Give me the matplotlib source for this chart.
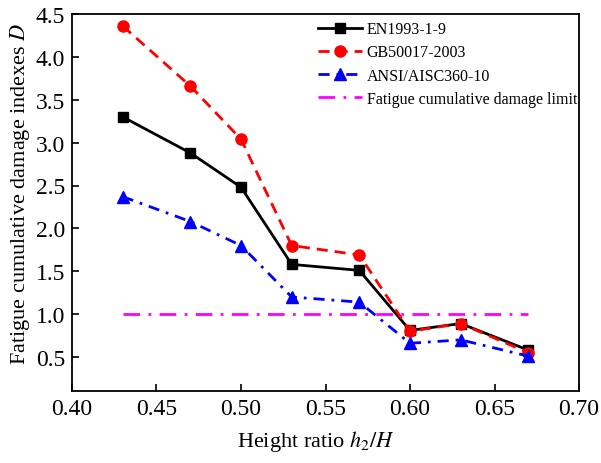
import matplotlib
matplotlib.use("Agg")
import matplotlib.pyplot as plt

plt.rcParams['font.family'] = ['Liberation Serif', 'DejaVu Serif']
plt.rcParams['mathtext.fontset'] = 'stix'

x = [0.43, 0.47, 0.50, 0.53, 0.57, 0.60, 0.63, 0.67]
en = [3.30, 2.88, 2.48, 1.58, 1.51, 0.81, 0.89, 0.58]
gb = [4.36, 3.66, 3.04, 1.80, 1.69, 0.80, 0.89, 0.55]
ansi = [2.37, 2.08, 1.80, 1.20, 1.14, 0.66, 0.70, 0.51]
limit_x = [0.43, 0.67]
limit_y = [1.0, 1.0]
labels = ['EN1993-1-9', 'GB50017-2003', 'ANSI/AISC360-10', 'Fatigue cumulative damage limit']
xticks = [0.40, 0.45, 0.50, 0.55, 0.60, 0.65, 0.70]
yticks = [0.5, 1.0, 1.5, 2.0, 2.5, 3.0, 3.5, 4.0, 4.5]

fig = plt.figure(figsize=(6.01, 4.64), dpi=100)
ax = fig.add_axes([72/601, 1-392.3/464, (579-72)/601, (392.3-15)/464])

ax.plot(x, en, color='black', lw=2, marker='s', ms=7, label=labels[0])
ax.plot(x, gb, color='red', lw=2, ls=(0, (4, 2.5)), marker='o', ms=8, label=labels[1])
ax.plot(x, ansi, color='blue', lw=2, ls=(0, (4, 2.5, 1, 2.5)), marker='^', ms=8, label=labels[2])
ax.plot(limit_x, limit_y, color='magenta', lw=2, ls=(0, (6, 3, 1, 3)), label=labels[3])

ax.set_xlim(0.40, 0.70)
ax.set_ylim(0.1, 4.5)
ax.set_xticks(xticks)
ax.set_xticklabels([f'{v:.2f}' for v in xticks])
ax.set_yticks(yticks)
ax.set_yticklabels([f'{v:.1f}' for v in yticks])
ax.tick_params(direction='in', length=5, width=1.2, labelsize=17, top=False, right=False, pad=5)
for s in ax.spines.values():
    s.set_linewidth(1.3)

ax.set_xlabel('Height ratio $h_2/H$', fontsize=16, labelpad=6)
ax.set_ylabel('Fatigue cumulative damage indexes $D$', fontsize=16, labelpad=3)
ax.xaxis.label.set_x(0.48)
ax.yaxis.label.set_y(0.527)

ax.legend(loc='upper right', bbox_to_anchor=(1.01, 1.0), frameon=False, fontsize=11.5,
          handlelength=2.75, handletextpad=0.3, borderaxespad=0.1, labelspacing=0.45,
          borderpad=0.35)

fig.savefig('out.png', dpi=100)
